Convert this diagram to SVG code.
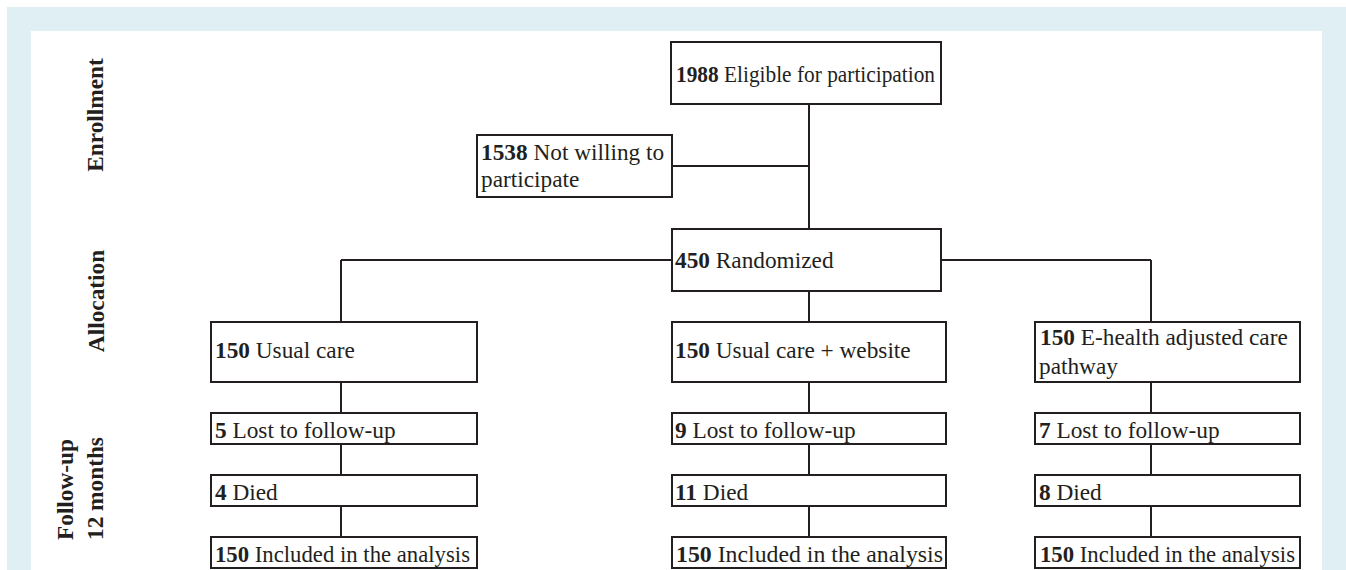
<svg xmlns="http://www.w3.org/2000/svg" width="1346" height="570" viewBox="0 0 1346 570">
<style>
.box{fill:#fff;stroke:#231f20;stroke-width:2}
.ln{stroke:#231f20;stroke-width:2;fill:none}
text{font-family:"Liberation Serif","Times New Roman",serif;font-size:23.3px;fill:#231f20}
.b{font-weight:bold}
</style>
<rect x="0" y="0" width="1346" height="570" fill="#fff"/>
<rect x="7" y="7" width="1339" height="563" fill="#dfeff4"/>
<rect x="31" y="31" width="1291" height="539" fill="#fff"/>
<g id="stage-labels">
<text class="b" transform="translate(103,115) rotate(-90)" text-anchor="middle">Enrollment</text>
<text class="b" transform="translate(104,301) rotate(-90)" text-anchor="middle">Allocation</text>
<text class="b" transform="translate(73,540) rotate(-90)">Follow-up</text>
<text class="b" transform="translate(103,540) rotate(-90)">12 months</text>
</g>
<g id="connectors">
<path class="ln" d="M809,104V229M672,166H809M341,260H672M941,260H1151M341,260V322M809,291V322M1151,260V322"/>
<path class="ln" d="M341,382V413M341,444V475M341,506V537"/>
<path class="ln" d="M809,382V413M809,444V475M809,506V537"/>
<path class="ln" d="M1151,382V413M1151,444V475M1151,506V537"/>
</g>
<g id="eligible"><rect class="box" x="671" y="42" width="270" height="62"/><text x="676" y="82" textLength="259" lengthAdjust="spacingAndGlyphs"><tspan class="b">1988</tspan> Eligible for participation</text></g>
<g id="notwilling"><rect class="box" x="477" y="135" width="195" height="62"/><text x="481" y="160"><tspan class="b">1538</tspan> Not willing to</text><text x="481" y="187">participate</text></g>
<g id="randomized"><rect class="box" x="672" y="229" width="269" height="62"/><text x="675" y="268"><tspan class="b">450</tspan> Randomized</text></g>
<g id="usual"><rect class="box" x="211" y="322" width="266" height="60"/><text x="215" y="358"><tspan class="b">150</tspan> Usual care</text></g>
<g id="website"><rect class="box" x="672" y="322" width="274" height="60"/><text x="675" y="358"><tspan class="b">150</tspan> Usual care + website</text></g>
<g id="ehealth"><rect class="box" x="1035" y="322" width="265" height="60"/><text x="1040" y="345"><tspan class="b">150</tspan> E-health adjusted care</text><text x="1039" y="374">pathway</text></g>
<g id="lost1"><rect class="box" x="211" y="413" width="266" height="31"/><text x="215" y="438"><tspan class="b">5</tspan> Lost to follow-up</text></g>
<g id="lost2"><rect class="box" x="672" y="413" width="274" height="31"/><text x="675" y="438"><tspan class="b">9</tspan> Lost to follow-up</text></g>
<g id="lost3"><rect class="box" x="1035" y="413" width="265" height="31"/><text x="1039" y="438"><tspan class="b">7</tspan> Lost to follow-up</text></g>
<g id="died1"><rect class="box" x="211" y="475" width="266" height="31"/><text x="215" y="500"><tspan class="b">4</tspan> Died</text></g>
<g id="died2"><rect class="box" x="672" y="475" width="274" height="31"/><text x="675" y="500"><tspan class="b">11</tspan> Died</text></g>
<g id="died3"><rect class="box" x="1035" y="475" width="265" height="31"/><text x="1039" y="500"><tspan class="b">8</tspan> Died</text></g>
<g id="incl1"><rect class="box" x="211" y="537" width="266" height="31"/><text x="215" y="562" textLength="255" lengthAdjust="spacingAndGlyphs"><tspan class="b">150</tspan> Included in the analysis</text></g>
<g id="incl2"><rect class="box" x="672" y="537" width="274" height="31"/><text x="676" y="562" textLength="267" lengthAdjust="spacingAndGlyphs"><tspan class="b">150</tspan> Included in the analysis</text></g>
<g id="incl3"><rect class="box" x="1035" y="537" width="265" height="31"/><text x="1040" y="562" textLength="255" lengthAdjust="spacingAndGlyphs"><tspan class="b">150</tspan> Included in the analysis</text></g>
</svg>
